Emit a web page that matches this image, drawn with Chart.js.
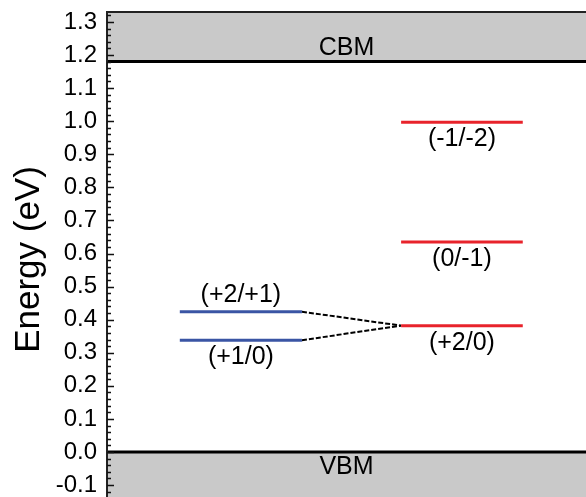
<!DOCTYPE html>
<html>
<head>
<meta charset="utf-8">
<script src="https://cdn.jsdelivr.net/npm/chart.js@4.4.1/dist/chart.umd.min.js"></script>
<style>
  html, body { margin: 0; padding: 0; background: #fff; }
  #wrap { width: 586px; height: 497px; position: relative; }
</style>
</head>
<body>
<div id="wrap"><canvas id="levelsChart"></canvas></div>
<script>
// transition levels (eV above VBM)
const levelLabels = ['(+2/+1)', '(+1/0)', '(+2/0)', '(0/-1)', '(-1/-2)'];
const levelEnergies = [0.424, 0.338, 0.382, 0.635, 0.997];
const levelColumn = [0, 0, 1, 1, 1];           // which column each level sits in
const columnSpans = [[0.152, 0.407], [0.614, 0.868]]; // x extent of each column (0..1)
const links = [[0, 2], [1, 2]];                 // dashed joins between levels
const bandEdges = { VBM: 0.0, CBM: 1.18 };
const yTicks = [-0.1, 0.0, 0.1, 0.2, 0.3, 0.4, 0.5, 0.6, 0.7, 0.8, 0.9, 1.0, 1.1, 1.2, 1.3];
const yRange = [-0.136, 1.33];

const FONT = '"Liberation Sans", Arial, Helvetica, sans-serif';
const columnColors = ['#3a55a4', '#e8232b'];
const labelAbove = [true, false, false, false, false];

const datasets = [];
levelEnergies.forEach((e, i) => {
    const span = columnSpans[levelColumn[i]];
    datasets.push({
        data: [{ x: span[0], y: e }, { x: span[1], y: e }],
        borderColor: columnColors[levelColumn[i]],
        borderWidth: 3,
        showLine: true,
        pointRadius: 0
    });
});
links.forEach(([a, b]) => {
    datasets.push({
        data: [
            { x: columnSpans[levelColumn[a]][1], y: levelEnergies[a] },
            { x: columnSpans[levelColumn[b]][0], y: levelEnergies[b] }
        ],
        borderColor: '#000',
        borderWidth: 2,
        borderDash: [5, 2],
        showLine: true,
        pointRadius: 0
    });
});

const bandPlugin = {
    id: 'bands',
    beforeDatasetsDraw(chart) {
        const { ctx, chartArea: a, scales: { x, y } } = chart;
        const yc = y.getPixelForValue(bandEdges.CBM);
        const yv = y.getPixelForValue(bandEdges.VBM);
        ctx.save();
        ctx.fillStyle = '#c9c9c9';
        ctx.fillRect(a.left, a.top, a.right - a.left, yc - a.top);
        ctx.fillRect(a.left, yv, a.right - a.left, a.bottom - yv);
        ctx.strokeStyle = '#000';
        ctx.lineWidth = 3;
        ctx.beginPath();
        ctx.moveTo(a.left, yc); ctx.lineTo(a.right, yc);
        ctx.moveTo(a.left, yv); ctx.lineTo(a.right, yv);
        ctx.stroke();
        ctx.fillStyle = '#000';
        ctx.font = '25px ' + FONT;
        ctx.textAlign = 'center';
        ctx.textBaseline = 'middle';
        const cx = x.getPixelForValue(0.5);
        ctx.fillText('CBM', cx, yc - 14);
        ctx.fillText('VBM', cx, yv + 15);
        ctx.restore();
    },
    afterDatasetsDraw(chart) {
        const { ctx, chartArea: a, scales: { x, y } } = chart;
        ctx.save();
        // level labels
        ctx.fillStyle = '#000';
        ctx.font = '25px ' + FONT;
        ctx.textAlign = 'center';
        ctx.textBaseline = 'middle';
        levelEnergies.forEach((e, i) => {
            const span = columnSpans[levelColumn[i]];
            const px = (x.getPixelForValue(span[0]) + x.getPixelForValue(span[1])) / 2;
            const py = y.getPixelForValue(e);
            ctx.fillText(levelLabels[i], px, labelAbove[i] ? py - 17 : py + 17);
        });
        // frame
        ctx.strokeStyle = '#222';
        ctx.lineWidth = 2;
        ctx.beginPath();
        ctx.moveTo(a.left, a.bottom); ctx.lineTo(a.left, a.top); ctx.lineTo(a.right, a.top);
        ctx.stroke();
        // inward ticks, 4 minor between majors
        ctx.strokeStyle = '#111';
        ctx.lineWidth = 1.5;
        ctx.beginPath();
        for (let k = Math.ceil(yRange[0] / 0.02); k * 0.02 <= yRange[1]; k++) {
            const py = Math.round(y.getPixelForValue(k * 0.02)) + 0.5;
            const len = k % 5 === 0 ? 7 : 4;
            ctx.moveTo(a.left, py); ctx.lineTo(a.left + len, py);
        }
        ctx.stroke();
        // axis title
        ctx.translate(29, (a.top + a.bottom) / 2 + 5);
        ctx.rotate(-Math.PI / 2);
        ctx.font = '35px ' + FONT;
        ctx.fillText('Energy (eV)', 0, 0);
        ctx.restore();
    }
};

new Chart(document.getElementById('levelsChart'), {
    type: 'scatter',
    data: { datasets },
    options: {
        responsive: true,
        maintainAspectRatio: false,
        animation: false,
        layout: { padding: { top: 12, left: 0, right: 0, bottom: 0 } },
        plugins: { legend: { display: false }, tooltip: { enabled: false } },
        scales: {
            x: { display: false, min: 0, max: 1 },
            y: {
                min: yRange[0],
                max: yRange[1],
                grid: { display: false, drawTicks: false },
                border: { display: false },
                afterBuildTicks: s => { s.ticks = yTicks.map(v => ({ value: v })); },
                afterFit: s => { s.width = 107; s.paddingTop = 0; s.paddingBottom = 0; },
                ticks: {
                    padding: 10,
                    color: '#000',
                    font: { family: FONT, size: 24 },
                    callback: v => v.toFixed(1)
                }
            }
        }
    },
    plugins: [bandPlugin]
});
</script>
</body>
</html>
